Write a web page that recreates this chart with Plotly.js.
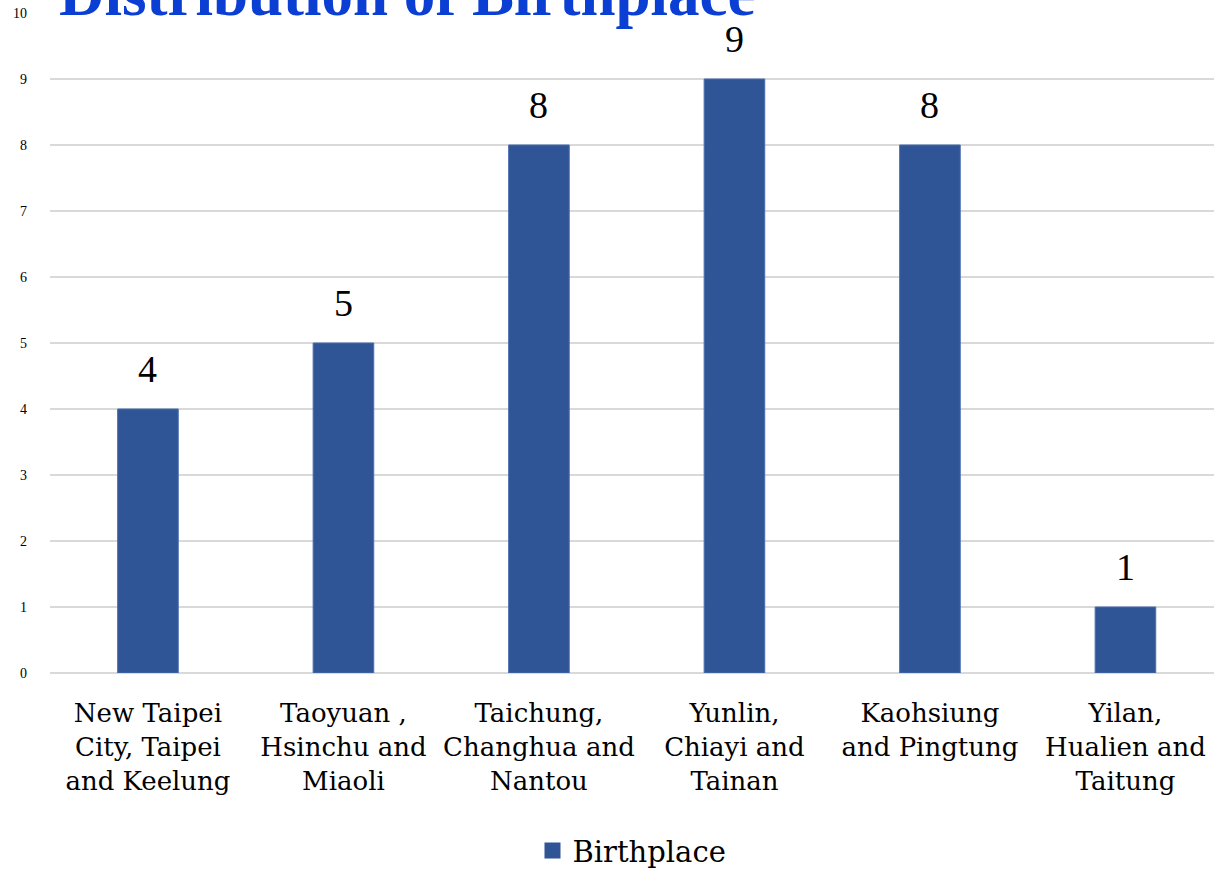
<!DOCTYPE html>
<html>
<head>
<meta charset="utf-8">
<script src="https://cdn.plot.ly/plotly-3.0.1.min.js"></script>
<style>html,body{margin:0;padding:0;background:#fff;}#chart{width:1214px;height:869px;}</style>
</head>
<body>
<div id="chart"></div>
<script>
const categories = [
  "New Taipei<br>City, Taipei<br>and Keelung",
  "Taoyuan ,<br>Hsinchu and<br>Miaoli",
  "Taichung,<br>Changhua and<br>Nantou",
  "Yunlin,<br>Chiayi and<br>Tainan",
  "Kaohsiung<br>and Pingtung",
  "Yilan,<br>Hualien and<br>Taitung"
];
const birthplaceCounts = [4, 5, 8, 9, 8, 1];
const yTickValues = [0, 1, 2, 3, 4, 5, 6, 7, 8, 9, 10];
const seriesName = "Birthplace";
const chartTitle = "Distribution of Birthplace";

const serif = "Liberation Serif, Times New Roman, serif";
const wideSerif = "DejaVu Serif, serif";
const barColor = "#2F5597";

const barTrace = {
  type: "bar",
  x: categories,
  y: birthplaceCounts,
  name: seriesName,
  showlegend: false,
  marker: {color: barColor, line: {color: "#4A6FB0", width: 1}},
  width: 0.31,
  textposition: "none",
  hoverinfo: "x+y"
};

// legend proxy (square swatch like the reference)
const legendTrace = {
  type: "scatter",
  mode: "markers",
  x: [null],
  y: [null],
  name: seriesName,
  marker: {symbol: "square", size: 22, color: barColor},
  showlegend: true,
  hoverinfo: "skip"
};

// value labels placed through the axes from the data arrays
const valueLabels = categories.map((c, i) => ({
  x: c,
  y: birthplaceCounts[i],
  xref: "x", yref: "y",
  text: String(birthplaceCounts[i]),
  showarrow: false,
  yanchor: "bottom",
  yshift: 17,
  font: {family: serif, size: 38, color: "#000"}
}));

const layout = {
  width: 1214,
  height: 869,
  paper_bgcolor: "#fff",
  plot_bgcolor: "#fff",
  margin: {l: 50, r: 0, t: 13, b: 196, autoexpand: false},
  annotations: [{
    text: "<b>" + chartTitle + "</b>",
    font: {family: serif, size: 63, color: "#0B3FD4"},
    xref: "paper", yref: "paper",
    x: 7 / 1164, xanchor: "left",
    y: 1.0285, yanchor: "middle",
    showarrow: false
  }].concat(valueLabels),
  xaxis: {
    type: "category",
    range: [-0.501, 5.453],
    tickfont: {family: wideSerif, size: 26, color: "#000"},
    showgrid: false,
    showline: false,
    ticks: "",
    ticklabelstandoff: 22,
    automargin: false
  },
  yaxis: {
    range: [0, 10],
    tickvals: yTickValues,
    ticktext: yTickValues.map(String),
    tickfont: {family: serif, size: 14, color: "#000"},
    showgrid: true,
    gridcolor: "#D9D9D9",
    gridwidth: 2,
    zeroline: true,
    zerolinecolor: "#D9D9D9",
    zerolinewidth: 2,
    showline: false,
    ticks: "",
    ticklabelstandoff: 22,
    automargin: false
  },
  showlegend: true,
  legend: {
    orientation: "h",
    x: 0.5,
    xanchor: "center",
    y: -0.269,
    yanchor: "middle",
    font: {family: wideSerif, size: 29, color: "#000"},
    itemwidth: 30,
    itemsizing: "trace"
  },
  bargap: 0.69
};

Plotly.newPlot("chart", [barTrace, legendTrace], layout, {displayModeBar: false, responsive: false});
</script>
</body>
</html>
